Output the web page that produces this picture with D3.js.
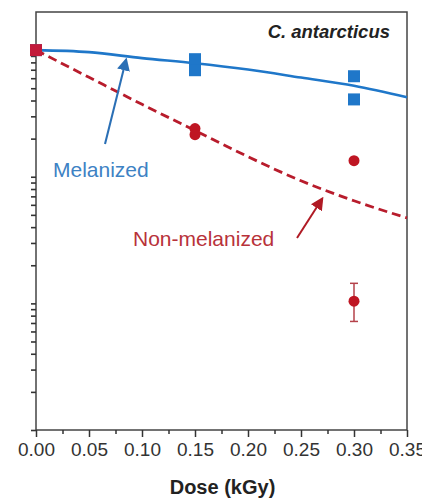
<!DOCTYPE html>
<html>
<head>
<meta charset="utf-8">
<script src="https://cdn.jsdelivr.net/npm/d3@7"></script>
<style>
  body { margin: 0; background: #fff; }
  svg { display: block; font-family: "Liberation Sans", Arial, sans-serif; }
</style>
</head>
<body>
<div id="chart"></div>
<script>
// survival fraction vs dose
const doses = [0, 0.15, 0.30];
const melanized = [
  {dose: 0, s: 1.0},
  {dose: 0.15, s: 0.848}, {dose: 0.15, s: 0.694},
  {dose: 0.30, s: 0.622}, {dose: 0.30, s: 0.408}
];
const nonMelanized = [
  {dose: 0.15, s: 0.240}, {dose: 0.15, s: 0.215},
  {dose: 0.30, s: 0.134},
  {dose: 0.30, s: 0.0104, lo: 0.0072, hi: 0.0144}
];
const startPoint = {dose: 0, s: 1.0};

// fitted curves, sampled every 0.05 kGy
const curveDoses = [0, 0.05, 0.10, 0.15, 0.20, 0.25, 0.30, 0.35];
const melFit = [1.0, 0.964, 0.864, 0.788, 0.702, 0.607, 0.523, 0.424];
const nonMelFit = [1.0, 0.610, 0.373, 0.232, 0.144, 0.0929, 0.0646, 0.0473];

const xTicks = [0, 0.05, 0.10, 0.15, 0.20, 0.25, 0.30, 0.35];

const width = 422, height = 499;
const margin = {top: 12, left: 36, right: 15, bottom: 69};

const blue = "#1f77c9", red = "#bf1623";

const svg = d3.select("#chart").append("svg")
  .attr("width", width).attr("height", height);

const x = d3.scaleLinear().domain([0, 0.35]).range([margin.left, width - margin.right]);
const y = d3.scaleLog().domain([0.001, 2]).range([height - margin.bottom, margin.top]);

/* frame */
svg.append("rect")
  .attr("x", x(0)).attr("y", y(2))
  .attr("width", x(0.35) - x(0)).attr("height", y(0.001) - y(2))
  .attr("fill", "none").attr("stroke", "#444").attr("stroke-width", 1.5);

/* x axis */
const xAxis = svg.append("g")
  .attr("transform", `translate(0,${y(0.001)})`)
  .call(d3.axisBottom(x).tickValues(xTicks).tickFormat(d3.format(".2f")).tickSize(7).tickPadding(6));
xAxis.select(".domain").remove();
xAxis.selectAll("line").attr("stroke", "#333").attr("stroke-width", 1.5);
xAxis.selectAll("text").attr("font-size", 19).attr("fill", "#333")
  .attr("font-family", "Liberation Sans, Arial, sans-serif");

const xMinor = svg.append("g")
  .attr("transform", `translate(0,${y(0.001)})`)
  .call(d3.axisBottom(x).tickValues(d3.range(0.025, 0.35, 0.05)).tickFormat("").tickSize(4));
xMinor.select(".domain").remove();
xMinor.selectAll("line").attr("stroke", "#333").attr("stroke-width", 1.5);

svg.append("text")
  .attr("x", (x(0) + x(0.35)) / 2 + 1).attr("y", 494)
  .attr("text-anchor", "middle")
  .attr("font-size", 20).attr("font-weight", "bold").attr("fill", "#222")
  .text("Dose (kGy)");

/* y axis: log ticks, no labels */
const yTickVals = y.ticks().filter(d => d < 2);
const yAxis = svg.append("g")
  .attr("transform", `translate(${x(0)},0)`)
  .call(d3.axisLeft(y).tickValues(yTickVals).tickFormat("").tickSize(5));
yAxis.select(".domain").remove();
yAxis.selectAll("line").attr("stroke", "#333").attr("stroke-width", 1.6);

/* fitted curves */
const line = d3.line()
  .x((d, i) => x(curveDoses[i]))
  .y(d => y(d))
  .curve(d3.curveMonotoneX);

svg.append("path")
  .datum(melFit)
  .attr("d", line)
  .attr("fill", "none").attr("stroke", blue).attr("stroke-width", 2.6);

svg.append("path")
  .datum(nonMelFit)
  .attr("d", line)
  .attr("fill", "none").attr("stroke", "#b81c2c").attr("stroke-width", 2.8)
  .attr("stroke-dasharray", "9,5");

/* melanized squares */
svg.selectAll("rect.mel")
  .data(melanized)
  .enter()
  .append("rect")
  .attr("class", "mel")
  .attr("x", d => x(d.dose) - 6)
  .attr("y", d => y(d.s) - 6)
  .attr("width", 12).attr("height", 12)
  .attr("fill", blue);

/* non-melanized error bars and dots */
const withErr = nonMelanized.filter(d => d.lo);
svg.selectAll("line.err")
  .data(withErr)
  .enter()
  .append("line")
  .attr("class", "err")
  .attr("x1", d => x(d.dose)).attr("x2", d => x(d.dose))
  .attr("y1", d => y(d.hi)).attr("y2", d => y(d.lo))
  .attr("stroke", "#b5424a").attr("stroke-width", 1.5);
["hi", "lo"].forEach(k => {
  svg.selectAll("line.cap-" + k)
    .data(withErr)
    .enter()
    .append("line")
    .attr("x1", d => x(d.dose) - 4).attr("x2", d => x(d.dose) + 4)
    .attr("y1", d => y(d[k])).attr("y2", d => y(d[k]))
    .attr("stroke", "#b5424a").attr("stroke-width", 1.5);
});

svg.selectAll("circle.non")
  .data(nonMelanized)
  .enter()
  .append("circle")
  .attr("class", "non")
  .attr("cx", d => x(d.dose))
  .attr("cy", d => y(d.s))
  .attr("r", 5.5)
  .attr("fill", red);

svg.append("rect")
  .attr("x", x(startPoint.dose) - 6).attr("y", y(startPoint.s) - 6)
  .attr("width", 12).attr("height", 12)
  .attr("fill", "#c21a3a");

/* arrows */
const defs = svg.append("defs");
[["blueHead", "#2a6fb5"], ["redHead", "#b01a24"]].forEach(([id, c]) => {
  defs.append("marker")
    .attr("id", id)
    .attr("viewBox", "0 0 10 10")
    .attr("refX", 8).attr("refY", 5)
    .attr("markerWidth", 6.5).attr("markerHeight", 6.5)
    .attr("orient", "auto")
    .append("path").attr("d", "M0,0 L10,5 L0,10 z").attr("fill", c);
});

svg.append("line")
  .attr("x1", 105).attr("y1", 144).attr("x2", 126).attr("y2", 60)
  .attr("stroke", "#2a6fb5").attr("stroke-width", 2)
  .attr("marker-end", "url(#blueHead)");

svg.append("line")
  .attr("x1", 297).attr("y1", 238).attr("x2", 322).attr("y2", 199)
  .attr("stroke", "#b01a24").attr("stroke-width", 2)
  .attr("marker-end", "url(#redHead)");

/* labels */
svg.append("text")
  .attr("x", 53).attr("y", 177)
  .attr("font-size", 21).attr("fill", "#3d82c4")
  .text("Melanized");

svg.append("text")
  .attr("x", 133).attr("y", 246)
  .attr("font-size", 21).attr("fill", "#b8323a")
  .text("Non-melanized");

svg.append("text")
  .attr("x", 390).attr("y", 38)
  .attr("text-anchor", "end")
  .attr("font-size", 18.5).attr("font-weight", "bold").attr("font-style", "italic")
  .attr("fill", "#222")
  .text("C. antarcticus");
</script>
</body>
</html>
